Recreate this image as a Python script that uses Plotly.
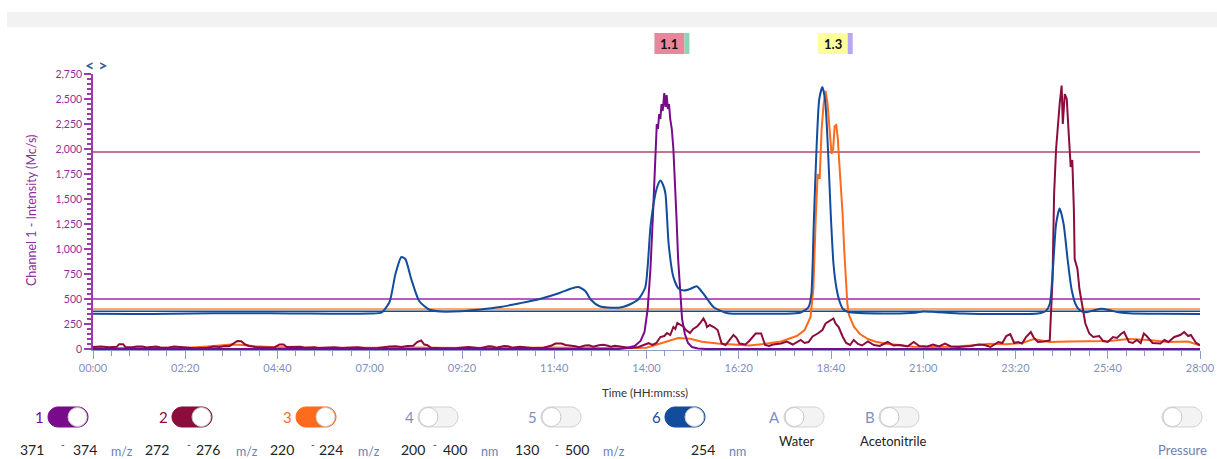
import plotly.graph_objects as go

# ---------------------------------------------------------------- data
time_tick_labels = ["00:00", "02:20", "04:40", "07:00", "09:20", "11:40", "14:00",
                    "16:20", "18:40", "21:00", "23:20", "25:40", "28:00"]
intensity_ticks = [0, 250, 500, 750, 1000, 1250, 1500, 1750, 2000, 2250, 2500, 2750]

# channel 1 (371-374 m/z): (minutes, Mc/s)
ch1_points = [
    (0.0, 0), (13.3, 0), (13.5, 10), (13.7, 30), (13.85, 80), (13.95, 170), (14.03, 400),
    (14.1, 800), (14.17, 1400), (14.22, 1900), (14.26, 2250), (14.29, 2200), (14.32, 2350),
    (14.35, 2300), (14.38, 2450), (14.41, 2380), (14.45, 2560), (14.48, 2420), (14.51, 2540),
    (14.54, 2400), (14.57, 2450), (14.6, 2300), (14.64, 2200), (14.68, 2000), (14.72, 1700),
    (14.76, 1300), (14.8, 900), (14.85, 550), (14.9, 300), (14.97, 150), (15.05, 60),
    (15.15, 20), (15.3, 5), (15.5, 0), (28.0, 0),
]

# channel 2 (272-276 m/z)
ch2_points = [
    (0.0, 20), (0.2, 25), (0.4, 18), (0.6, 22), (0.66, 48), (0.76, 48), (0.82, 20), (1.0, 18),
    (1.1, 25), (1.25, 25), (1.35, 15), (1.5, 25), (1.6, 25), (1.7, 15), (1.9, 12), (2.05, 25),
    (2.15, 22), (2.3, 10), (2.6, 8), (2.9, 12), (3.05, 25), (3.2, 20), (3.35, 30), (3.45, 28),
    (3.55, 50), (3.65, 80), (3.75, 78), (3.85, 45), (3.95, 30), (4.1, 20), (4.3, 15), (4.6, 18),
    (4.72, 45), (4.82, 45), (4.9, 20), (5.1, 25), (5.25, 22), (5.35, 12), (5.6, 18), (5.7, 10),
    (6.0, 15), (6.1, 18), (6.3, 10), (6.6, 20), (6.7, 18), (6.9, 8), (7.2, 10), (7.5, 25),
    (7.65, 28), (7.8, 20), (7.95, 30), (8.1, 32), (8.2, 70), (8.3, 85), (8.38, 45), (8.45, 40),
    (8.55, 12), (8.8, 8), (9.2, 10), (9.5, 20), (9.6, 15), (9.8, 8), (10.0, 28), (10.1, 25),
    (10.2, 12), (10.4, 30), (10.5, 28), (10.6, 12), (10.8, 22), (10.9, 20), (11.1, 10),
    (11.4, 12), (11.6, 35), (11.7, 55), (11.85, 55), (11.95, 40), (12.1, 35), (12.2, 28),
    (12.3, 18), (12.45, 35), (12.55, 38), (12.65, 22), (12.8, 38), (12.9, 42), (13.0, 35),
    (13.1, 22), (13.2, 32), (13.3, 25), (13.45, 15), (13.6, 10), (13.8, 20), (13.95, 45),
    (14.05, 58), (14.15, 40), (14.25, 60), (14.35, 120), (14.45, 130), (14.52, 160),
    (14.6, 140), (14.68, 220), (14.73, 200), (14.78, 260), (14.85, 240), (14.93, 225),
    (15.0, 190), (15.1, 160), (15.18, 200), (15.28, 225), (15.36, 260), (15.44, 305),
    (15.5, 260), (15.53, 220), (15.6, 240), (15.7, 220), (15.8, 190), (15.85, 120),
    (15.9, 55), (16.0, 40), (16.1, 90), (16.2, 140), (16.28, 110), (16.35, 55), (16.5, 45),
    (16.6, 80), (16.76, 155), (16.9, 155), (17.0, 40), (17.1, 30), (17.2, 45), (17.4, 55),
    (17.55, 75), (17.7, 45), (17.9, 90), (18.0, 60), (18.1, 70), (18.2, 125), (18.33, 155),
    (18.45, 190), (18.53, 255), (18.6, 270), (18.66, 290), (18.73, 305), (18.78, 255),
    (18.86, 220), (18.96, 125), (19.05, 60), (19.15, 40), (19.24, 90), (19.35, 50),
    (19.45, 35), (19.6, 75), (19.75, 40), (19.9, 30), (20.1, 70), (20.25, 35), (20.4, 40),
    (20.6, 25), (20.76, 70), (20.9, 30), (21.1, 25), (21.25, 45), (21.4, 25), (21.55, 55),
    (21.7, 25), (21.9, 20), (22.2, 30), (22.4, 45), (22.55, 40), (22.7, 20), (22.9, 70),
    (23.0, 60), (23.1, 130), (23.2, 150), (23.3, 60), (23.4, 70), (23.5, 55), (23.6, 120),
    (23.72, 170), (23.8, 110), (23.9, 70), (24.05, 75), (24.2, 85), (24.27, 700),
    (24.31, 1550), (24.36, 2000), (24.4, 2220), (24.45, 2450), (24.5, 2635), (24.53, 2250),
    (24.58, 2550), (24.63, 2500), (24.68, 2150), (24.73, 1820), (24.77, 1890), (24.81, 1390),
    (24.83, 900), (24.9, 800), (24.95, 600), (25.0, 490), (25.1, 255), (25.2, 155),
    (25.3, 120), (25.45, 130), (25.55, 80), (25.67, 70), (25.8, 120), (25.9, 110),
    (26.0, 150), (26.08, 170), (26.2, 70), (26.3, 60), (26.4, 90), (26.5, 60), (26.58, 155),
    (26.65, 130), (26.8, 60), (27.0, 55), (27.1, 90), (27.2, 70), (27.35, 120), (27.5, 140),
    (27.6, 170), (27.7, 130), (27.77, 140), (27.9, 60), (28.0, 40),
]

# channel 3 (220-224 m/z)
ch3_points = [
    (0.0, 8), (0.5, 10), (1.0, 8), (1.5, 12), (2.0, 10), (2.5, 15), (2.9, 25), (3.2, 35),
    (3.5, 45), (3.8, 40), (4.1, 28), (4.5, 20), (5.0, 15), (5.5, 12), (6.0, 10), (6.5, 12),
    (7.0, 10), (7.5, 12), (8.0, 15), (8.5, 12), (9.0, 10), (9.5, 10), (10.0, 12), (10.5, 10),
    (11.0, 12), (11.5, 15), (12.0, 12), (12.5, 10), (13.0, 8), (13.5, 8), (14.0, 12),
    (14.2, 35), (14.5, 72), (14.8, 110), (15.1, 103), (15.4, 72), (15.8, 55), (16.2, 42),
    (16.6, 35), (17.0, 52), (17.4, 75), (17.8, 130), (18.0, 190), (18.15, 320), (18.22, 600),
    (18.28, 1300), (18.33, 1750), (18.38, 1700), (18.43, 2200), (18.48, 2450), (18.53, 2580),
    (18.58, 2450), (18.63, 2200), (18.68, 1950), (18.72, 2000), (18.76, 2230), (18.8, 2240),
    (18.84, 2100), (18.87, 1900), (18.92, 1600), (18.96, 1350), (19.0, 1000), (19.04, 700),
    (19.08, 450), (19.12, 340), (19.25, 220), (19.4, 150), (19.6, 100), (19.8, 72),
    (20.1, 50), (20.4, 40), (20.75, 22), (21.2, 20), (21.7, 22), (22.2, 35), (22.7, 52),
    (23.1, 48), (23.5, 60), (23.8, 100), (24.2, 70), (24.7, 75), (25.2, 75), (25.7, 80),
    (26.2, 100), (26.7, 90), (27.2, 70), (27.7, 75), (28.0, 35),
]

# channel 6 (254 nm)
ch6_points = [
    (0.0, 352), (1.0, 350), (2.0, 352), (3.0, 357), (4.0, 358), (5.0, 355), (6.0, 353),
    (7.0, 355), (7.3, 365), (7.5, 470), (7.65, 750), (7.8, 920), (7.9, 900), (8.05, 700),
    (8.25, 480), (8.5, 395), (8.8, 375), (9.3, 378), (9.8, 395), (10.3, 420), (10.8, 458),
    (11.3, 500), (11.8, 560), (12.1, 605), (12.28, 620), (12.45, 580), (12.6, 490),
    (12.8, 430), (13.1, 412), (13.4, 420), (13.6, 450), (13.8, 500), (13.97, 618),
    (14.1, 1220), (14.2, 1500), (14.27, 1620), (14.35, 1685), (14.42, 1640), (14.48, 1550),
    (14.56, 1050), (14.68, 720), (14.81, 605), (14.95, 585), (15.1, 600), (15.27, 628),
    (15.44, 553), (15.7, 418), (16.05, 358), (16.9, 353), (17.5, 352), (17.9, 365),
    (18.1, 420), (18.17, 550), (18.23, 1250), (18.3, 2000), (18.37, 2500), (18.45, 2620),
    (18.52, 2480), (18.59, 2000), (18.66, 1350), (18.73, 850), (18.8, 620), (18.88, 480),
    (18.97, 400), (19.1, 370), (20.0, 355), (20.8, 362), (21.0, 375), (21.3, 370),
    (22.0, 355), (23.0, 350), (23.9, 355), (24.1, 380), (24.2, 450), (24.28, 800),
    (24.36, 1250), (24.45, 1405), (24.55, 1250), (24.65, 900), (24.75, 600), (24.85, 450),
    (24.95, 390), (25.1, 368), (25.3, 385), (25.5, 402), (25.7, 390), (25.9, 370),
    (26.2, 358), (27.0, 352), (28.0, 350),
]

# threshold levels drawn across the whole run
threshold_levels = [1970, 500, 400, 378]
threshold_colors = ["#a8486c", "#9b2aa8", "#ff8a3c", "#1c4a8c"]

# fraction labels above peaks
fraction_labels = ["1.1", "1.3"]
fraction_times = [14.58, 18.71]
fraction_fill = ["#e8869c", "#ffff99"]
fraction_strip = ["#8fd3b6", "#b8a6f2"]

# ---------------------------------------------------------------- layout helpers
W, H = 1217, 459
ML, MR, MT, MB = 93, 17, 74, 109
PW, PH = W - ML - MR, H - MT - MB
FONT = "Lato"


def fx(px):
    return (px - ML) / PW


def fy(py):
    return (H - MB - py) / PH


def mmss_to_min(s):
    m, sec = s.split(":")
    return int(m) + int(sec) / 60.0


def unzip(points):
    return [p[0] for p in points], [p[1] for p in points]


fig = go.Figure()

series = [
    ("3", ch3_points, "#ff6b1c", "linear"),
    ("2", ch2_points, "#8c0c3c", "linear"),
    ("1", ch1_points, "#7a0a8c", "linear"),
    ("6", ch6_points, "#124c9c", "spline"),
]
for name, pts, color, shape in series:
    t, v = unzip(pts)
    fig.add_trace(go.Scatter(
        x=t, y=v, mode="lines", name=name, showlegend=False,
        line=dict(color=color, width=2, shape=shape, smoothing=0.6 if shape == "spline" else None),
        hoverinfo="skip",
    ))

shapes = []
for lvl, col in zip(threshold_levels, threshold_colors):
    shapes.append(dict(type="line", xref="paper", yref="y", x0=0, x1=1, y0=lvl, y1=lvl,
                       line=dict(color=col, width=1.5), layer="below"))

# top strip
shapes.append(dict(type="rect", xref="paper", yref="paper", x0=fx(7), x1=fx(W), y0=fy(27), y1=fy(12),
                   fillcolor="#f2f2f2", line=dict(width=0), layer="below"))

annotations = []

# fraction markers
box_half = 15 * 28.0 / PW
for lab, tm, fill, strip in zip(fraction_labels, fraction_times, fraction_fill, fraction_strip):
    shapes.append(dict(type="rect", xref="x", yref="paper", x0=tm - box_half, x1=tm + box_half,
                       y0=fy(54), y1=fy(33), fillcolor=fill, line=dict(width=0)))
    shapes.append(dict(type="rect", xref="x", yref="paper", x0=tm + box_half,
                       x1=tm + box_half + 5 * 28.0 / PW, y0=fy(54), y1=fy(33),
                       fillcolor=strip, line=dict(width=0)))
    annotations.append(dict(x=tm, y=fy(43.5), xref="x", yref="paper", text="<b>%s</b>" % lab,
                            showarrow=False, font=dict(family=FONT, size=13, color="#111111"),
                            xanchor="center", yanchor="middle"))


def text(px, py, s, size=14, color="#222222", anchor="center", angle=0):
    annotations.append(dict(x=fx(px), y=fy(py), xref="paper", yref="paper", text=s,
                            showarrow=False, font=dict(family=FONT, size=size, color=color),
                            xanchor=anchor, yanchor="middle", textangle=angle))


def pill(x0, x1, cy, r, fill, edge):
    k = 0.5523 * r
    a, b = x0 + r, x1 - r
    pts = [("M", [(a, cy - r)]), ("L", [(b, cy - r)]),
           ("C", [(b + k, cy - r), (b + r, cy - k), (b + r, cy)]),
           ("C", [(b + r, cy + k), (b + k, cy + r), (b, cy + r)]),
           ("L", [(a, cy + r)]),
           ("C", [(a - k, cy + r), (a - r, cy + k), (a - r, cy)]),
           ("C", [(a - r, cy - k), (a - k, cy - r), (a, cy - r)])]
    path = " ".join(cmd + " " + " ".join("%.5f,%.5f" % (fx(x), fy(y)) for x, y in xy) for cmd, xy in pts) + " Z"
    shapes.append(dict(type="path", xref="paper", yref="paper", path=path, fillcolor=fill,
                       line=dict(color=edge, width=1)))


def knob(cx, cy, r):
    shapes.append(dict(type="circle", xref="paper", yref="paper", x0=fx(cx - r), x1=fx(cx + r),
                       y0=fy(cy + r), y1=fy(cy - r), fillcolor="#ffffff",
                       line=dict(color="#c8c8c8", width=1)))


# channel switches
switch_ids = ["1", "2", "3", "4", "5", "6", "A", "B", ""]
switch_on = [True, True, True, False, False, True, False, False, False]
switch_colors = ["#7a0a8c", "#8c0c3c", "#ff6b1c", "#7f8fbf", "#7f8fbf", "#124c9c", "#7f8fbf", "#7f8fbf", ""]
switch_left = [48, 172, 296, 418, 541, 665, 784, 879, 1162]
TY, TR, TW = 417, 10, 40
for sid, on, col, x0 in zip(switch_ids, switch_on, switch_colors, switch_left):
    if on:
        pill(x0, x0 + TW, TY, TR, col, col)
        knob(x0 + TW - TR - 0.5, TY, TR - 0.5)
    else:
        pill(x0, x0 + TW, TY, TR, "#f3f3f3", "#d2d2d2")
        knob(x0 + TR + 0.5, TY, TR - 0.5)
    if sid:
        text(x0 - 9, TY, sid, size=15, color=col)

# channel ranges
range_rows = [
    ("371", "374", "m/z", 32, 63, 85, 122),
    ("272", "276", "m/z", 157, 189, 208, 247),
    ("220", "224", "m/z", 282, 313, 331, 369),
    ("200", "400", "nm", 413, 435, 455, 489),
    ("130", "500", "m/z", 527, 557, 577, 614),
]
for lo, hi, unit, xlo, xd, xhi, xu in range_rows:
    text(xlo, 449, lo)
    text(xd, 444, "-", size=10)
    text(xhi, 449, hi)
    text(xu, 452, unit, size=12.5, color="#6d7fb3")
text(703, 449, "254")
text(737, 452, "nm", size=12.5, color="#6d7fb3")
text(797, 441, "Water", size=13, color="#222222")
text(893, 441, "Acetonitrile", size=13, color="#222222")
text(1182, 450, "Pressure", size=13, color="#6d7fb3")

# axis titles and pan arrows
text(31, 211, "Channel 1 - Intensity (Mc/s)", size=12.5, color="#8b2f9b", angle=-90)
text(645, 392, "Time (HH:mm:ss)", size=11.5, color="#333333")
text(96, 64, "<b>&lt; &gt;</b>", size=16, color="#3a5a9a")

axis_blue = "#8c9cc6"
axis_purple = "#9b3aa9"
fig.update_layout(
    width=W, height=H,
    margin=dict(l=ML, r=MR, t=MT, b=MB, autoexpand=False),
    paper_bgcolor="#ffffff", plot_bgcolor="#ffffff",
    showlegend=False,
    shapes=shapes, annotations=annotations,
    xaxis=dict(
        range=[0, 28], tickmode="array", automargin=False,
        tickvals=[mmss_to_min(s) for s in time_tick_labels], ticktext=time_tick_labels,
        showgrid=False, zeroline=False, showline=True, linecolor=axis_blue, linewidth=1,
        ticks="outside", ticklen=8, tickcolor=axis_blue, tickwidth=1,
        minor=dict(ticks="outside", ticklen=5, tickcolor=axis_blue, tickmode="linear",
                   tick0=0, dtick=28 / 60.0, showgrid=False),
        tickfont=dict(family=FONT, size=11, color="#7f8fbb"),
    ),
    yaxis=dict(
        range=[-10, 2750], tickmode="array", tickvals=intensity_ticks, tickformat=",",
        automargin=False,
        showgrid=False, zeroline=False, showline=True, linecolor=axis_purple, linewidth=1.5,
        ticks="outside", ticklen=7, tickcolor=axis_purple, tickwidth=1.5,
        minor=dict(ticks="outside", ticklen=4, tickcolor=axis_purple, tickmode="linear",
                   tick0=0, dtick=50, showgrid=False),
        tickfont=dict(family=FONT, size=10.5, color="#8b2f9b"),
    ),
)

fig.write_html("out.html")
